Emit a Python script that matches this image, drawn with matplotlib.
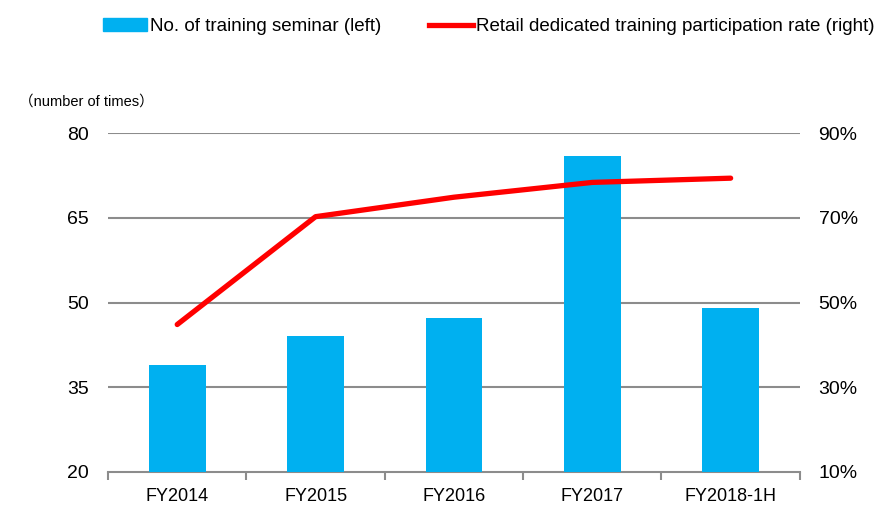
import numpy as np
import matplotlib
matplotlib.use('Agg')
import matplotlib.pyplot as plt
from matplotlib.patches import Patch
from matplotlib.lines import Line2D

plt.rcParams['font.family'] = ['Liberation Sans Narrow', 'Liberation Sans', 'Noto Sans CJK JP', 'DejaVu Sans']

# data
years = ['FY2014', 'FY2015', 'FY2016', 'FY2017', 'FY2018-1H']
seminars = [39, 44, 47.2, 76, 49]            # left axis, number of times
particip = [44.8, 70.3, 74.9, 78.4, 79.4]    # right axis, %

left_ticks = [20, 35, 50, 65, 80]
right_ticks = [10, 30, 50, 70, 90]

blue = '#00B0F0'
red = '#FF0000'
grey = '#8C8C8C'

fig = plt.figure(figsize=(8.77, 5.07), dpi=100)
ax = fig.add_axes([0.1232, 0.0696, 0.7888, 0.6674])
ax2 = ax.twinx()

x = np.arange(len(years))
ax.bar(x, seminars, width=0.41, color=blue, zorder=3)
ax.set_xlim(-0.5, len(years) - 0.5)
ax.set_ylim(20, 80)
ax.set_yticks(left_ticks)
for t in left_ticks[1:]:
    ax.axhline(t, color=grey, lw=1.5, zorder=1)

ax2.plot(x, particip, color=red, lw=3.8, solid_capstyle='round', zorder=4)
ax2.set_ylim(10, 90)
ax2.set_yticks(right_ticks)
ax2.set_yticklabels(['%d%%' % v for v in right_ticks])

# x ticks between categories, labels centred
ax.set_xticks(x)
ax.set_xticklabels(years, fontsize=13)
ax.set_xticks(np.arange(-0.5, len(years)), minor=True)
ax.tick_params(axis='x', which='major', length=0, pad=12)
ax.tick_params(axis='x', which='minor', length=6, width=1.5, color=grey)
ax.tick_params(axis='y', length=0, labelsize=14, pad=14)
ax2.tick_params(axis='y', length=0, labelsize=14, pad=13.5)

for a in (ax, ax2):
    for s in ('top', 'left', 'right'):
        a.spines[s].set_visible(False)
ax2.spines['bottom'].set_visible(False)
ax.spines['bottom'].set_color(grey)
ax.spines['bottom'].set_linewidth(1.5)

ax.set_zorder(ax2.get_zorder() - 1)
ax.patch.set_visible(False)

fig.text(0.022, 0.8, '（number of times）', fontsize=10.5, ha='left', va='center')

handles = [Patch(color=blue), Line2D([0], [0], color=red, lw=3.8)]
labels = ['No. of training seminar (left)',
          'Retail dedicated training participation rate (right)']
fig.legend(handles, labels, ncol=2, loc='center left',
           bbox_to_anchor=(0.117, 0.947), frameon=False, fontsize=13.5,
           handlelength=2.35, handleheight=0.7, handletextpad=0.2,
           columnspacing=2.5, borderpad=0, borderaxespad=0)

fig.savefig('out.png', dpi=100)
